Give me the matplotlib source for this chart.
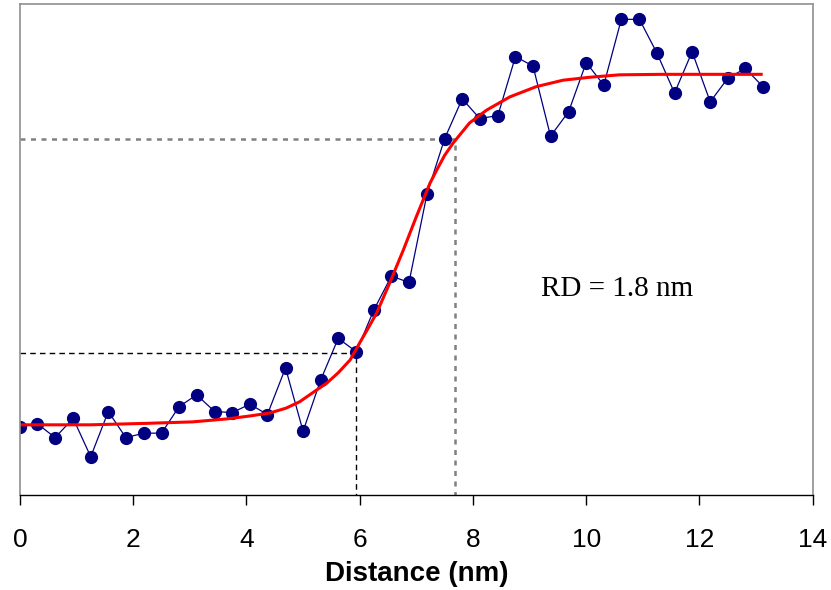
import matplotlib as mpl
mpl.use('Agg')
import matplotlib.pyplot as plt

# measured profile (nm, arbitrary intensity)
dist = [0.0, 0.31, 0.62, 0.94, 1.25, 1.56, 1.87, 2.19, 2.5, 2.81, 3.12, 3.44,
        3.75, 4.06, 4.37, 4.69, 5.0, 5.31, 5.62, 5.94, 6.25, 6.56, 6.87, 7.19,
        7.5, 7.81, 8.12, 8.44, 8.75, 9.06, 9.37, 9.69, 10.0, 10.31, 10.62,
        10.94, 11.25, 11.56, 11.87, 12.19, 12.5, 12.81, 13.12]
signal = [13.9, 14.5, 11.7, 15.6, 7.8, 17.0, 11.7, 12.6, 12.6, 18.0, 20.4, 17.0,
          16.8, 18.5, 16.4, 25.9, 13.0, 23.4, 31.9, 29.2, 37.7, 44.6, 43.3, 61.4,
          72.6, 80.7, 76.7, 77.3, 89.3, 87.4, 73.1, 78.1, 88.1, 83.5, 96.9,
          96.9, 90.0, 81.9, 90.3, 80.1, 84.9, 86.9, 83.2]

# fitted curve
fit_x = [0.0, 1.24, 2.24, 3.05, 3.65, 4.06, 4.41, 4.70, 4.94, 5.24, 5.42,
         5.62, 5.83, 6.0, 6.15, 6.30, 6.53, 6.77, 7.0, 7.24, 7.36, 7.50, 7.65,
         7.94, 8.24, 8.65, 9.12, 9.59, 10.06, 10.59, 11.35, 13.09]
fit_y = [14.3, 14.3, 14.6, 14.9, 15.5, 16.1, 16.7, 17.7, 19.0, 21.4, 22.8,
         24.9, 27.5, 31.0, 34.0, 37.1, 43.2, 49.9, 56.7, 63.5, 66.2, 69.2, 71.7,
         75.8, 78.4, 81.1, 83.2, 84.5, 85.1, 85.6, 85.7, 85.7]

# 20% / 80% marks
low_x, low_y = 5.93, 28.9
high_x, high_y = 7.69, 72.6

fig = plt.figure(figsize=(8.31, 5.90), dpi=100)
ax = fig.add_axes([0.024, 0.161, 0.954, 0.832])

ax.plot([0, low_x, low_x], [low_y, low_y, 0], color='black', lw=1.0,
        dashes=(4, 3))
ax.plot([0, high_x, high_x], [high_y, high_y, 0], color='#808080', lw=1.8,
        dashes=(2, 2.2))

ax.plot(dist, signal, color='#000080', lw=0.9, marker='o', ms=8.5,
        markeredgecolor='#000080', markerfacecolor='#000080')
ax.plot(fit_x, fit_y, color='red', lw=2.2)

ax.text(9.2, 42.0, 'RD = 1.8 nm', fontsize=21, family='Liberation Serif',
        va='center')

ax.set_xlim(0, 14)
ax.set_ylim(0, 100)
ax.set_xticks(range(0, 15, 2))
ax.set_yticks([])
ax.tick_params(axis='x', direction='out', length=7, width=1, pad=17,
               labelsize=19)
for lbl in ax.get_xticklabels():
    lbl.set_family('Liberation Sans')
for side in ['left', 'top', 'right']:
    ax.spines[side].set_color('#909090')
    ax.spines[side].set_linewidth(1.2)
ax.spines['bottom'].set_color('black')
ax.spines['bottom'].set_linewidth(1.0)

ax.set_xlabel('Distance (nm)', fontsize=20, fontweight='bold',
              family='Liberation Sans', labelpad=6)

plt.savefig('out.png', dpi=100)
plt.close()
